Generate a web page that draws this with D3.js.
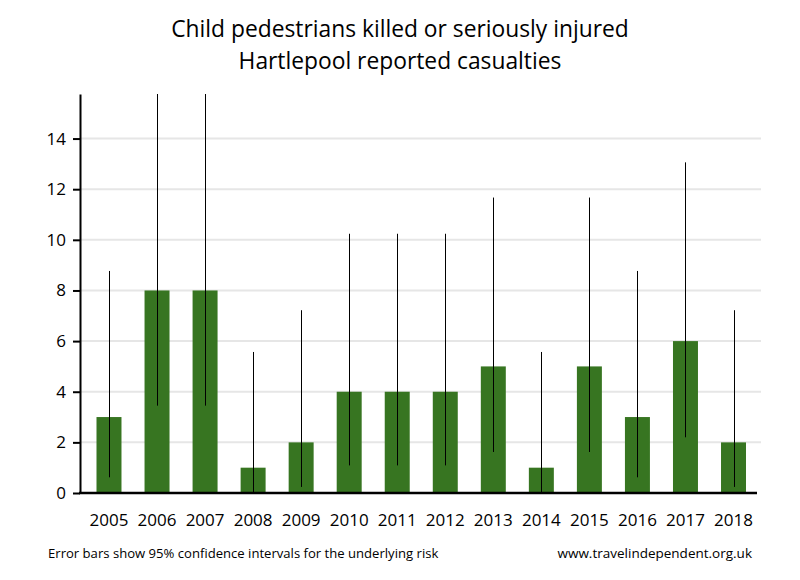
<!DOCTYPE html>
<html>
<head>
<meta charset="utf-8">
<script src="https://cdn.jsdelivr.net/npm/d3@7"></script>
<style>
  body { margin: 0; background: #fff; }
  text { font-family: "Open Sans", "DejaVu Sans", sans-serif; fill: #000; }
</style>
</head>
<body>
<div id="chart"></div>
<script>
// data
const years = ['2005','2006','2007','2008','2009','2010','2011','2012','2013','2014','2015','2016','2017','2018'];
const casualties = [3, 8, 8, 1, 2, 4, 4, 4, 5, 1, 5, 3, 6, 2];
const lowerCI = [0.62, 3.45, 3.45, 0.03, 0.24, 1.09, 1.09, 1.09, 1.62, 0.03, 1.62, 0.62, 2.2, 0.24];
const upperCI = [8.77, 15.76, 15.76, 5.57, 7.22, 10.24, 10.24, 10.24, 11.67, 5.57, 11.67, 8.77, 13.06, 7.22];
const yTicks = [0, 2, 4, 6, 8, 10, 12, 14];

const width = 800, height = 580;
const plot = { left: 80, right: 757, top: 94, bottom: 493 };

const svg = d3.select('#chart').append('svg')
    .attr('width', width)
    .attr('height', height);

const x = d3.scaleBand()
    .domain(years)
    .range([96.5, 746])
    .paddingInner(0.48)
    .paddingOuter(0);

const y = d3.scaleLinear()
    .domain([0, d3.max(upperCI)])
    .range([plot.bottom, plot.top]);

// gridlines
svg.append('g')
    .selectAll('line')
    .data(yTicks.slice(1))
    .enter()
    .append('line')
    .attr('x1', plot.left)
    .attr('x2', 761)
    .attr('y1', d => y(d))
    .attr('y2', d => y(d))
    .attr('stroke', '#e6e6e6')
    .attr('stroke-width', 2);

// bars
svg.append('g')
    .selectAll('rect')
    .data(casualties)
    .enter()
    .append('rect')
    .attr('x', (d, i) => x(years[i]))
    .attr('y', d => y(d))
    .attr('width', x.bandwidth())
    .attr('height', d => y(0) - y(d))
    .attr('fill', '#377521');

// error bars
svg.append('g')
    .selectAll('line')
    .data(years)
    .enter()
    .append('line')
    .attr('x1', d => Math.round(x(d) + x.bandwidth() / 2) + 0.5)
    .attr('x2', d => Math.round(x(d) + x.bandwidth() / 2) + 0.5)
    .attr('y1', (d, i) => y(lowerCI[i]))
    .attr('y2', (d, i) => y(upperCI[i]))
    .attr('stroke', '#000')
    .attr('stroke-width', 1);

// y axis
const yAxis = svg.append('g')
    .attr('transform', 'translate(' + plot.left + ',0)')
    .call(d3.axisLeft(y).tickValues(yTicks).tickSize(7).tickPadding(7).tickSizeOuter(0));
yAxis.select('.domain').attr('stroke-width', 2);
yAxis.selectAll('.tick line').attr('stroke-width', 2);
yAxis.selectAll('text').style('font-size', '17px').attr('fill', '#000');

// x axis
const xAxis = svg.append('g')
    .attr('transform', 'translate(0,' + plot.bottom + ')')
    .call(d3.axisBottom(x).tickSize(0).tickPadding(21).tickSizeOuter(0));
xAxis.select('.domain')
    .attr('d', 'M' + (plot.left - 1) + ',0H' + plot.right)
    .attr('stroke-width', 2.5);
xAxis.selectAll('text').style('font-size', '17px').attr('fill', '#000');

// titles
svg.append('text')
    .attr('x', 400)
    .attr('y', 37)
    .attr('text-anchor', 'middle')
    .style('font-size', '22.8px')
    .text('Child pedestrians killed or seriously injured');
svg.append('text')
    .attr('x', 400)
    .attr('y', 69)
    .attr('text-anchor', 'middle')
    .style('font-size', '22.8px')
    .text('Hartlepool reported casualties');

// footer
svg.append('text')
    .attr('x', 48)
    .attr('y', 558)
    .style('font-size', '13.1px')
    .text('Error bars show 95% confidence intervals for the underlying risk');
svg.append('text')
    .attr('x', 752)
    .attr('y', 558)
    .attr('text-anchor', 'end')
    .style('font-size', '13.5px')
    .text('www.travelindependent.org.uk');
</script>
</body>
</html>
